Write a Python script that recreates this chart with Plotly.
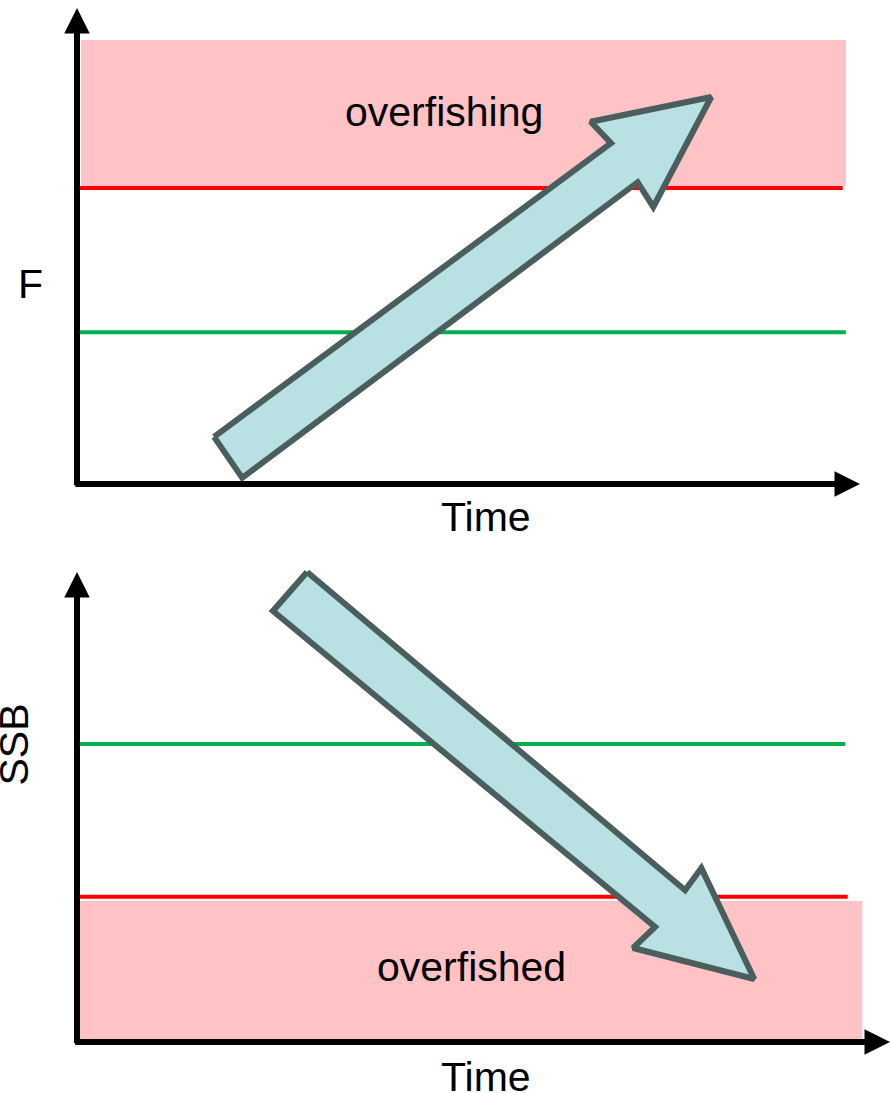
import plotly.graph_objects as go

# ---------------- data (arbitrary schematic units, 0-100 on each axis) ----------------
# Top panel: fishing mortality F over time
f_limit = 62.2          # red line (overfishing threshold)
f_target = 31.9         # green line
f_limit_x_end = 97.8
f_target_x_end = 98.2
overfishing_zone_x = [0.5, 98.2]
overfishing_zone_y = [62.6, 93.3]
up_arrow_x = [17.5, 21.1, 71.6, 73.6, 81.0, 65.6, 68.2]
up_arrow_y = [9.9, 1.3, 63.4, 58.2, 81.3, 76.1, 71.6]

# Bottom panel: spawning stock biomass SSB over time
b_target = 63.4         # green line
b_limit = 30.9          # red line (overfished threshold)
b_target_x_end = 94.5
b_limit_x_end = 94.8
overfished_zone_x = [0.0, 96.6]
overfished_zone_y = [0.4, 30.0]
down_arrow_x = [28.3, 24.1, 71.1, 68.4, 83.3, 76.8, 74.8]
down_arrow_y = [100.0, 91.7, 24.5, 20.0, 13.4, 37.0, 32.3]

labels_top = {"zone": "overfishing", "y": "F", "x": "Time"}
labels_bottom = {"zone": "overfished", "y": "SSB", "x": "Time"}

# ---------------- styles ----------------
PINK = "#FFC2C5"
RED = "#FF0000"
GREEN = "#00B050"
ARROW_FILL = "#B9E0E3"
ARROW_EDGE = "#4B5E5E"
FONT = "Liberation Sans, Arial, sans-serif"
FS = 41

fig = go.Figure()


def rect(xs, ys, xa, ya):
    fig.add_trace(go.Scatter(
        x=[xs[0], xs[1], xs[1], xs[0], xs[0]],
        y=[ys[0], ys[0], ys[1], ys[1], ys[0]],
        mode="lines", fill="toself", fillcolor=PINK,
        line=dict(width=0, color=PINK), hoverinfo="skip",
        xaxis=xa, yaxis=ya, showlegend=False))


def hline(yv, x_end, color, xa, ya):
    fig.add_trace(go.Scatter(
        x=[0, x_end], y=[yv, yv], mode="lines",
        line=dict(color=color, width=4), hoverinfo="skip",
        xaxis=xa, yaxis=ya, showlegend=False))


def poly(xs, ys, xa, ya):
    fig.add_trace(go.Scatter(
        x=xs + xs[:1], y=ys + ys[:1], mode="lines", fill="toself",
        fillcolor=ARROW_FILL, line=dict(color=ARROW_EDGE, width=6),
        hoverinfo="skip", xaxis=xa, yaxis=ya, showlegend=False))


# top panel
rect(overfishing_zone_x, overfishing_zone_y, "x", "y")
hline(f_limit, f_limit_x_end, RED, "x", "y")
hline(f_target, f_target_x_end, GREEN, "x", "y")
poly(up_arrow_x, up_arrow_y, "x", "y")

# bottom panel
rect(overfished_zone_x, overfished_zone_y, "x2", "y2")
hline(b_target, b_target_x_end, GREEN, "x2", "y2")
hline(b_limit, b_limit_x_end, RED, "x2", "y2")
poly(down_arrow_x, down_arrow_y, "x2", "y2")

annotations = []


def axis_arrow(x0, y0, x1, y1, xr, yr):
    annotations.append(dict(
        x=x1, y=y1, ax=x0, ay=y0, xref=xr, yref=yr, axref=xr, ayref=yr,
        text="", showarrow=True, arrowhead=2, arrowsize=0.85, arrowwidth=6,
        arrowcolor="black", standoff=0, startstandoff=0))


def label(text, x, y, xr, yr, angle=0):
    annotations.append(dict(
        x=x, y=y, xref=xr, yref=yr, text=text, showarrow=False,
        textangle=angle, font=dict(family=FONT, size=FS, color="black"),
        xanchor="center", yanchor="middle"))


axis_arrow(0, -0.6, 0, 100, "x", "y")
axis_arrow(-0.4, 0, 100, 0, "x", "y")
axis_arrow(0, -0.6, 0, 100, "x2", "y2")
axis_arrow(-0.4, 0, 100, 0, "x2", "y2")

label(labels_top["zone"], 46.9, 78.2, "x", "y")
label(labels_top["y"], -5.9, 42.0, "x", "y")
label(labels_top["x"], 52.2, -6.9, "x", "y")
label(labels_bottom["zone"], 48.5, 16.0, "x2", "y2")
label(labels_bottom["y"], -7.8, 63.2, "x2", "y2", angle=-90)
label(labels_bottom["x"], 50.3, -7.4, "x2", "y2")

hidden = dict(visible=False, showgrid=False, zeroline=False, fixedrange=True)
fig.update_layout(
    width=890, height=1093, autosize=False,
    margin=dict(l=0, r=0, t=0, b=0),
    paper_bgcolor="white", plot_bgcolor="rgba(0,0,0,0)",
    xaxis=dict(domain=[0, 1], range=[-9.834, 103.83], **hidden),
    yaxis=dict(domain=[0.50595, 1], range=[-11.76, 101.68], **hidden),
    xaxis2=dict(domain=[0, 1], range=[-9.471, 100.0], anchor="y2", **hidden),
    yaxis2=dict(domain=[0, 0.50137], range=[-10.85, 105.74], anchor="x2", **hidden),
    annotations=annotations,
    showlegend=False,
)

fig.write_html(
    "out.html",
    config={"displayModeBar": False},
    post_script="document.body.style.margin='0';document.body.style.overflow='hidden';",
)
